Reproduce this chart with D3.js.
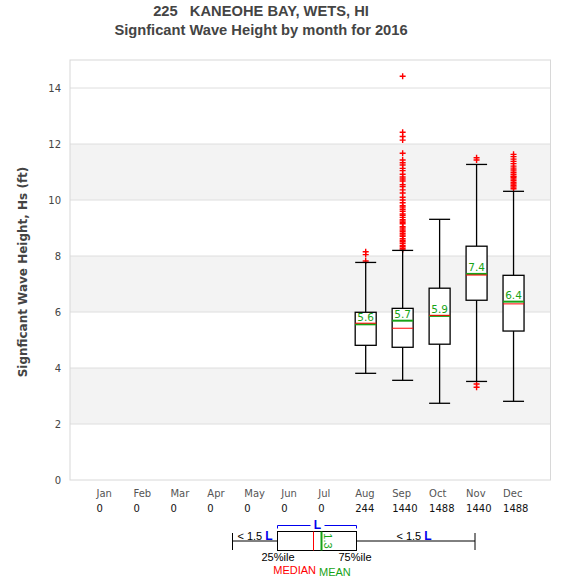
<!DOCTYPE html>
<html><head><meta charset="utf-8">
<script src="https://cdn.jsdelivr.net/npm/d3@7"></script>
<style>body{margin:0;background:#fff}svg{display:block}</style>
</head><body><svg id="c" width="575" height="580"></svg>
<script>
const months = ["Jan","Feb","Mar","Apr","May","Jun","Jul","Aug","Sep","Oct","Nov","Dec"];
const counts = [0,0,0,0,0,0,0,244,1440,1488,1440,1488];
const yTicks = [0,2,4,6,8,10,12,14];
const boxMonths = [7,8,9,10,11];
const lowWhisker = [3.81,3.56,2.74,3.52,2.81];
const q1 = [4.81,4.74,4.85,6.42,5.32];
const medians = [5.60,5.42,5.88,7.32,6.29];
const q3 = [5.99,6.13,6.85,8.35,7.31];
const highWhisker = [7.77,8.20,9.31,11.27,10.31];
const means = [5.56,5.69,5.86,7.36,6.37];
const outAug = [8.15,8.05,7.82];
const outSep = [14.42,12.42,12.27,12.14,11.67,11.43,11.33,11.25,11.13,11.05,10.92,10.82,10.75,10.68,10.55,10.48,10.36,10.25,10.10,10.00,9.90,9.80,9.75,9.67,9.60,9.50,9.45,9.38,9.30,9.25,9.20,9.15,9.05,9.00,8.93,8.88,8.81,8.75,8.70,8.62,8.56,8.51,8.45,8.38,8.33,8.27,8.22];
const outOct = [];
const outNov = [11.51,11.43,3.43,3.31];
const outDec = [11.63,11.55,11.46,11.38,11.30,11.21,11.14,11.07,10.99,10.92,10.85,10.81,10.75,10.69,10.62,10.57,10.51,10.46,10.40];
const outliers = [outAug,outSep,outOct,outNov,outDec];

const svg = d3.select("#c");
const L=70,R=550.5,T=60,B=480;
const x = d3.scaleLinear().domain([0,13]).range([L,R]);
const y = d3.scaleLinear().domain([0,15]).range([B,T]);
const bw = 21;
const green="#17a317", red="#ff0000";

[[2,4],[6,8],[10,12]].forEach(b=>{
  svg.append("rect").attr("x",L).attr("width",R-L).attr("y",y(b[1])).attr("height",y(b[0])-y(b[1])).attr("fill","#f3f3f3");
});
yTicks.filter(t=>t>0).forEach(t=>{
  svg.append("line").attr("x1",L).attr("x2",R).attr("y1",y(t)).attr("y2",y(t)).attr("stroke","#dedede").attr("stroke-width",1);
});
svg.append("rect").attr("x",L).attr("y",T).attr("width",R-L).attr("height",B-T).attr("fill","none").attr("stroke","#d8d8d8").attr("stroke-width",1);

svg.append("g").selectAll("text").data(yTicks).join("text")
  .attr("x",61).attr("y",d=>y(d)+4).attr("text-anchor","end")
  .attr("font-family","DejaVu Sans").attr("font-size",10).attr("fill","#444").text(d=>d);
svg.append("text").attr("transform","translate(27,272) rotate(-90)").attr("text-anchor","middle")
  .attr("font-family","DejaVu Sans").attr("font-weight","bold").attr("font-size",12).attr("fill","#444")
  .text("Signficant Wave Height, Hs (ft)");

svg.append("g").selectAll("text").data(months).join("text")
  .attr("x",(d,i)=>x(i+1)-10.5).attr("y",497).attr("font-family","DejaVu Sans").attr("font-size",10).attr("fill","#555").text(d=>d);
svg.append("g").selectAll("text").data(counts).join("text")
  .attr("x",(d,i)=>x(i+1)-10.5).attr("y",512).attr("font-family","DejaVu Sans").attr("font-size",10).attr("fill","#111").text(d=>d);

svg.append("text").attr("x",261).attr("y",16).attr("text-anchor","middle").attr("font-family","Liberation Sans, Arial").attr("font-weight","bold").attr("font-size",14.7).attr("fill","#444").attr("xml:space","preserve").text("225   KANEOHE BAY, WETS, HI");
svg.append("text").attr("x",261).attr("y",35).attr("text-anchor","middle").attr("font-family","Liberation Sans, Arial").attr("font-weight","bold").attr("font-size",14.7).attr("fill","#444").text("Signficant Wave Height by month for 2016");

boxMonths.forEach((m,i)=>{
  const cx = x(m+1);
  const g = svg.append("g");
  outliers[i].forEach(v=>{
    g.append("path").attr("d",`M${cx-3},${y(v)}h6M${cx},${y(v)-3}v6`).attr("stroke",red).attr("stroke-width",1.4);
  });
  g.append("line").attr("x1",cx).attr("x2",cx).attr("y1",y(highWhisker[i])).attr("y2",y(q3[i])).attr("stroke","#000").attr("stroke-width",1.3);
  g.append("line").attr("x1",cx).attr("x2",cx).attr("y1",y(q1[i])).attr("y2",y(lowWhisker[i])).attr("stroke","#000").attr("stroke-width",1.3);
  g.append("line").attr("x1",cx-bw/2).attr("x2",cx+bw/2).attr("y1",y(highWhisker[i])).attr("y2",y(highWhisker[i])).attr("stroke","#000").attr("stroke-width",1.3);
  g.append("line").attr("x1",cx-bw/2).attr("x2",cx+bw/2).attr("y1",y(lowWhisker[i])).attr("y2",y(lowWhisker[i])).attr("stroke","#000").attr("stroke-width",1.3);
  g.append("rect").attr("x",cx-bw/2).attr("width",bw).attr("y",y(q3[i])).attr("height",y(q1[i])-y(q3[i])).attr("fill","#fff").attr("stroke","#000").attr("stroke-width",1.3);
  g.append("line").attr("x1",cx-bw/2).attr("x2",cx+bw/2).attr("y1",y(means[i])).attr("y2",y(means[i])).attr("stroke",green).attr("stroke-width",2);
  g.append("line").attr("x1",cx-bw/2).attr("x2",cx+bw/2).attr("y1",y(medians[i])).attr("y2",y(medians[i])).attr("stroke",red).attr("stroke-width",1);
  g.append("text").attr("x",cx).attr("y",y(means[i])-3).attr("text-anchor","middle").attr("font-family","DejaVu Sans").attr("font-size",10.5).attr("fill",green).text(d3.format(".1f")(means[i]));
});

const lg = svg.append("g").attr("font-family","Liberation Sans, Arial").attr("font-size",11);
const ly = 541;
lg.append("line").attr("x1",232.5).attr("x2",232.5).attr("y1",533).attr("y2",550).attr("stroke","#000");
lg.append("line").attr("x1",475).attr("x2",475).attr("y1",533).attr("y2",550).attr("stroke","#000");
lg.append("line").attr("x1",232.5).attr("x2",277.5).attr("y1",ly).attr("y2",ly).attr("stroke","#000");
lg.append("line").attr("x1",356.5).attr("x2",475).attr("y1",ly).attr("y2",ly).attr("stroke","#000");
lg.append("rect").attr("x",277.5).attr("y",531.5).attr("width",79).attr("height",19).attr("fill","#fff").attr("stroke","#000");
lg.append("line").attr("x1",313.5).attr("x2",313.5).attr("y1",531.5).attr("y2",550.5).attr("stroke",red);
lg.append("line").attr("x1",321.5).attr("x2",321.5).attr("y1",531.5).attr("y2",550.5).attr("stroke",green).attr("stroke-width",2);
lg.append("text").attr("transform","translate(324,541) rotate(90)").attr("text-anchor","middle").attr("fill",green).text("1.3");
lg.append("path").attr("d","M277.5,528.5V525.5H310.5M324.5,525.5H356.5V528.5").attr("fill","none").attr("stroke","#0000ee");
lg.append("text").attr("x",317.5).attr("y",529).attr("text-anchor","middle").attr("font-weight","bold").attr("fill","#0000ee").attr("font-size",12).text("L");
const t1 = lg.append("text").attr("x",255).attr("y",540).attr("text-anchor","middle").attr("fill","#000");
t1.append("tspan").text("< 1.5 "); t1.append("tspan").attr("font-weight","bold").attr("fill","#0000ee").attr("font-size",12).text("L");
const t2 = lg.append("text").attr("x",414).attr("y",540).attr("text-anchor","middle").attr("fill","#000");
t2.append("tspan").text("< 1.5 "); t2.append("tspan").attr("font-weight","bold").attr("fill","#0000ee").attr("font-size",12).text("L");
lg.append("text").attr("x",278).attr("y",561).attr("text-anchor","middle").text("25%ile");
lg.append("text").attr("x",355).attr("y",561).attr("text-anchor","middle").text("75%ile");
lg.append("text").attr("x",316).attr("y",573.5).attr("text-anchor","end").attr("fill",red).text("MEDIAN");
lg.append("text").attr("x",319).attr("y",575.5).attr("fill",green).text("MEAN");
</script></body></html>
